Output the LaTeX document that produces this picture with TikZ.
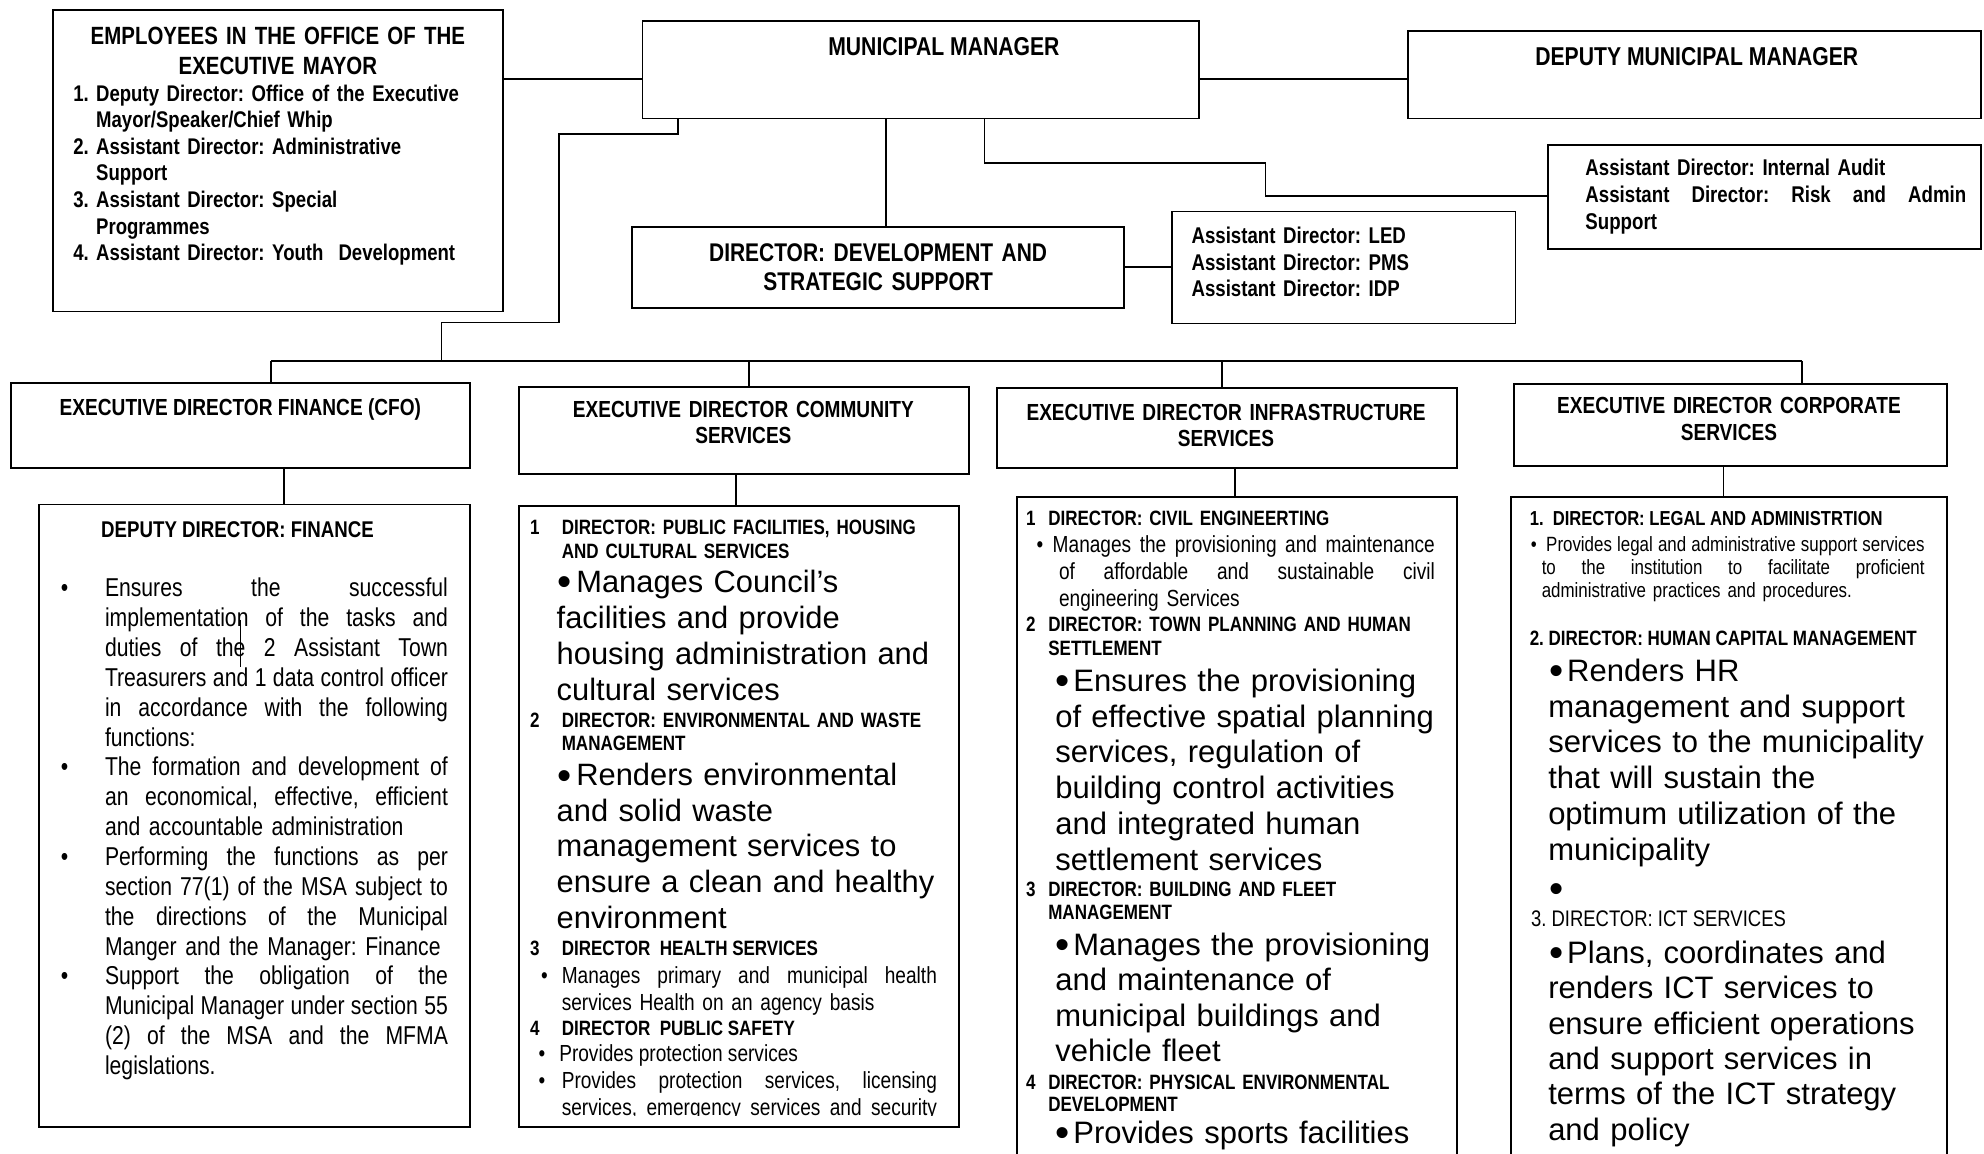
\documentclass[tikz,border=0pt]{standalone}
\usepackage{fontspec}
\setmainfont{Liberation Sans}
\newfontfamily\nar[FakeStretch=0.82]{Liberation Sans}
\newfontfamily\ari{Liberation Sans}
\frenchspacing
\newcommand\fbd[2]{\nar\bfseries\fontsize{#1}{#2}\selectfont\frenchspacing}
\newcommand\frg[2]{\nar\mdseries\fontsize{#1}{#2}\selectfont\frenchspacing}
\newcommand\fbig[2]{\ari\mdseries\fontsize{#1}{#2}\selectfont\frenchspacing}
\newcommand\jl[2]{\leavevmode{\spaceskip=\fontdimen2\font plus 1fil\relax\makebox[#1][s]{#2}}}
\newcommand\bigbul[1]{\makebox[#1][l]{\raisebox{-2.6pt}{\fontsize{32}{32}\selectfont\textbullet}}}
\newcommand\lnum[2]{\leavevmode\llap{\makebox[#1][l]{#2}}}
\newcommand\lbul[1]{\leavevmode\llap{\textbullet\hspace{#1}}}
\begin{document}
\begin{tikzpicture}[x=1pt,y=-1pt,
  box/.style={draw, line width=1.4pt, rectangle, inner sep=0pt, anchor=north west},
  conn/.style={line width=1.3pt},
  tx/.style={inner sep=0pt, outer sep=0pt, anchor=base west, align=left},
  ct/.style={inner sep=0pt, outer sep=0pt, anchor=base, align=center},
]
\useasboundingbox (0,0) rectangle (1568,912);
\fill[white] (0,0) rectangle (1568,912);

% ---------- boxes ----------
\node[box, minimum width=356pt, minimum height=238.5pt] (emp) at (41,7) {};
\node[box, minimum width=440pt, minimum height=77pt] (mm) at (507,16) {};
\node[box, minimum width=453pt, minimum height=69pt] (dmm) at (1112,24) {};
\node[box, minimum width=388.6pt, minimum height=63.5pt] (dev) at (499,179) {};
\node[box, minimum width=271.3pt, minimum height=88.5pt] (led) at (925.7,166.5) {};
\node[box, minimum width=342.4pt, minimum height=82pt] (aud) at (1222.6,114) {};
\node[box, minimum width=363pt, minimum height=67pt] (cfo) at (8,302) {};
\node[box, minimum width=355.5pt, minimum height=69pt] (com) at (409.5,305) {};
\node[box, minimum width=364pt, minimum height=63pt] (inf) at (787,306) {};
\node[box, minimum width=342pt, minimum height=65pt] (cor) at (1196,302.5) {};
\node[box, minimum width=341pt, minimum height=492pt] (fin) at (30,398) {};
\node[box, minimum width=347.5pt, minimum height=491pt] (comb) at (409.5,399) {};
\node[box, minimum width=348pt, minimum height=540pt] (infb) at (803,392) {};
\node[box, minimum width=344.5pt, minimum height=540pt] (corb) at (1193.5,392) {};

% ---------- connectors ----------
\coordinate (busL) at (214,285.3);
\coordinate (busR) at (1424,285.3);
\draw[conn] (emp.east |- 0,62.5) -- (mm.west |- 0,62.5);
\draw[conn] (mm.east |- 0,62.5) -- (dmm.west |- 0,62.5);
\draw[conn] (mm.south -| 536,0) -- (536,106) -- (442,106) -- (442,255) -- (349,255) -- (busL -| 349,0);
\draw[conn] (busL) -- (busR);
\draw[conn] (busL) -- (cfo.north -| busL);
\draw[conn] (busL -| 592,0) -- (com.north -| 592,0);
\draw[conn] (busL -| 966,0) -- (inf.north -| 966,0);
\draw[conn] (busR) -- (cor.north -| busR);
\draw[conn] (mm.south -| 700,0) -- (dev.north -| 700,0);
\draw[conn] (mm.south -| 778,0) -- (778,128.6) -- (1000,128.6) -- (1000,155) -- (aud.west |- 0,155);
\draw[conn] (dev.east |- 0,211) -- (led.west |- 0,211);
\draw[conn] (cfo.south -| 224.5,0) -- (fin.north -| 224.5,0);
\draw[conn] (com.south -| 581.5,0) -- (comb.north -| 581.5,0);
\draw[conn] (inf.south -| 976,0) -- (infb.north -| 976,0);
\draw[conn] (cor.south -| 1362,0) -- (corb.north -| 1362,0);
\draw[line width=0.8pt] (190,490) -- (190,527);

% ---------- top texts ----------
\node[ct, text width=340pt, font=\fbd{19.7}{23.7}] (empT) at (219.6,34.8) {EMPLOYEES IN THE OFFICE OF THE\\EXECUTIVE MAYOR};
\node[tx, text width=315pt, font=\fbd{17.9}{21}] (empL) at (76,80) {\lnum{18pt}{1.}Deputy Director: Office of the Executive\\
Mayor/Speaker/Chief Whip\\
\lnum{18pt}{2.}Assistant Director: Administrative\\
Support\\
\lnum{18pt}{3.}Assistant Director: Special\\
Programmes\\
\lnum{18pt}{4.}Assistant Director: Youth\ \ Development};
\node[ct, font=\fbd{20.4}{23.7}] (mmT) at (746,43.8) {MUNICIPAL MANAGER};
\node[ct, font=\fbd{20.4}{23.7}] (dmmT) at (1341,51.5) {DEPUTY MUNICIPAL MANAGER};
\node[ct, text width=380pt, font=\fbd{20.2}{22.4}] (devT) at (694,206.8) {DIRECTOR: DEVELOPMENT AND\\STRATEGIC SUPPORT};
\node[tx, text width=250pt, font=\fbd{18}{21.2}] (ledT) at (941.7,192.3) {Assistant Director: LED\\Assistant Director: PMS\\Assistant Director: IDP};
\node[tx, text width=301pt, font=\fbd{18}{21.1}] (audT) at (1253,139) {Assistant Director: Internal Audit\\
\jl{301pt}{Assistant Director: Risk and Admin}\\
Support};

% ---------- executive directors ----------
\node[ct, font=\fbd{18.4}{21}] (cfoT) at (190,328) {EXECUTIVE DIRECTOR FINANCE (CFO)};
\node[ct, text width=345pt, font=\fbd{18.4}{20.8}] (comT) at (587.5,330.1) {EXECUTIVE DIRECTOR COMMUNITY\\SERVICES};
\node[ct, text width=355pt, font=\fbd{18.4}{20.5}] (infT) at (969,332) {EXECUTIVE DIRECTOR INFRASTRUCTURE\\SERVICES};
\node[ct, text width=335pt, font=\fbd{18.4}{21}] (corT) at (1366.4,326.8) {EXECUTIVE DIRECTOR CORPORATE\\SERVICES};

% ---------- finance ----------
\node[tx, font=\fbd{18}{21}] (finH) at (80,424.7) {DEPUTY DIRECTOR: FINANCE};
\node[tx, text width=271pt, font=\frg{20.4}{23.6}] (finB) at (83,471.6) {\lbul{29pt}\jl{271pt}{Ensures the successful}\\
\jl{271pt}{implementation of the tasks and}\\
\jl{271pt}{duties of the 2 Assistant Town}\\
\jl{271pt}{Treasurers and 1 data control officer}\\
\jl{271pt}{in accordance with the following}\\
functions:\\
\lbul{29pt}\jl{271pt}{The formation and development of}\\
\jl{271pt}{an economical, effective, efficient}\\
and accountable administration\\
\lbul{29pt}\jl{271pt}{Performing the functions as per}\\
\jl{271pt}{section 77(1) of the MSA subject to}\\
\jl{271pt}{the directions of the Municipal}\\
Manger and the Manager: Finance\\
\lbul{29pt}\jl{271pt}{Support the obligation of the}\\
\jl{271pt}{Municipal Manager under section 55}\\
\jl{271pt}{(2) of the MSA and the MFMA}\\
legislations.};

% ---------- community ----------
\node[tx, text width=320pt, font=\fbd{16.4}{18.5}] (com1) at (444,422.8) {\lnum{25pt}{1}DIRECTOR: PUBLIC FACILITIES, HOUSING\\AND CULTURAL SERVICES};
\node[tx, text width=320pt, font=\fbig{24.4}{28.47}] (com1b) at (440,468.4) {\hspace*{0.5pt}\bigbul{15pt}Manages Council’s\\facilities and provide\\housing administration and\\cultural services};
\node[tx, text width=320pt, font=\fbd{16.4}{18.5}] (com2) at (444,574.8) {\lnum{25pt}{2}DIRECTOR: ENVIRONMENTAL AND WASTE\\MANAGEMENT};
\node[tx, text width=320pt, font=\fbig{24.4}{28.15}] (com2b) at (440,621) {\hspace*{0.5pt}\bigbul{15pt}Renders environmental\\and solid waste\\management services to\\ensure a clean and healthy\\environment};
\node[tx, font=\fbd{16.4}{18.5}] (com3) at (444,755.5) {\lnum{25pt}{3}DIRECTOR\ \ HEALTH SERVICES};
\node[tx, text width=296.5pt, font=\frg{18.4}{21.1}] (com3b) at (444,777.6) {\lbul{11pt}\jl{296.5pt}{Manages primary and municipal health}\\services Health on an agency basis};
\node[tx, font=\fbd{16.4}{18.5}] (com4) at (444,818) {\lnum{25pt}{4}DIRECTOR\ \ PUBLIC SAFETY};
\node[tx, font=\frg{18.4}{21.1}] (com4b) at (442,839) {\lbul{11pt}Provides protection services};
\begin{scope}
\clip (400,845) rectangle (760,881.3);
\node[tx, text width=296.5pt, font=\frg{18.4}{21.7}] (com4c) at (444,860) {\lbul{13pt}\jl{296.5pt}{Provides protection services, licensing}\\\jl{296.5pt}{services, emergency services and security}};
\end{scope}

% ---------- infrastructure ----------
\node[tx, text width=320pt, font=\fbd{16.4}{19}] (inf1) at (828.5,415) {\lnum{17.5pt}{1}DIRECTOR: CIVIL ENGINEERTING};
\node[tx, text width=310pt, font=\frg{18.4}{21.3}] (inf1b) at (837,436.8) {\leavevmode\hspace*{-5pt}\llap{\textbullet\hspace{7.5pt}}\jl{302pt}{Manages the provisioning and maintenance}\\
\jl{297pt}{of affordable and sustainable civil}\\
engineering Services};
\node[tx, text width=320pt, font=\fbd{16.4}{19}] (inf2) at (828.5,498.7) {\lnum{17.5pt}{2}DIRECTOR: TOWN PLANNING AND HUMAN\\SETTLEMENT};
\node[tx, text width=320pt, font=\fbig{24.5}{28.2}] (inf2b) at (834,546.6) {\hspace*{0.5pt}\bigbul{13.8pt}Ensures the provisioning\\of effective spatial planning\\services, regulation of\\building control activities\\and integrated human\\settlement services};
\node[tx, text width=320pt, font=\fbd{16.4}{18}] (inf3) at (828.5,708.7) {\lnum{17.5pt}{3}DIRECTOR: BUILDING AND FLEET\\MANAGEMENT};
\node[tx, text width=320pt, font=\fbig{24.5}{28.1}] (inf3b) at (834,754.8) {\hspace*{0.5pt}\bigbul{13.8pt}Manages the provisioning\\and maintenance of\\municipal buildings and\\vehicle fleet};
\node[tx, text width=320pt, font=\fbd{16.4}{17.8}] (inf4) at (828.5,861) {\lnum{17.5pt}{4}DIRECTOR: PHYSICAL ENVIRONMENTAL\\DEVELOPMENT};
\node[tx, text width=320pt, font=\fbig{24.5}{28.1}] (inf4b) at (834,903.5) {\hspace*{0.5pt}\bigbul{13.8pt}Provides sports facilities};

% ---------- corporate ----------
\node[tx, font=\fbd{16}{18}] (cor1) at (1209,415.5) {1.\ \ DIRECTOR: LEGAL AND ADMINISTRTION};
\node[tx, text width=310pt, font=\frg{16.3}{18}] (cor1b) at (1218.5,436) {\leavevmode\hspace*{3.5pt}\llap{\textbullet\hspace{7.5pt}}\jl{299pt}{Provides legal and administrative support services}\\
\jl{302.5pt}{to the institution to facilitate proficient}\\
administrative practices and procedures.};
\node[tx, font=\fbd{16.4}{18}] (cor2) at (1209,510.4) {2. DIRECTOR: HUMAN CAPITAL MANAGEMENT};
\node[tx, text width=320pt, font=\fbig{24.5}{28.2}] (cor2b) at (1223.6,538.7) {\hspace*{1pt}\bigbul{14pt}Renders HR\\management and support\\services to the municipality\\that will sustain the\\optimum utilization of the\\municipality};
\node[tx, font=\fbig{24.5}{28.2}] (corDot) at (1224.5,710.5) {\bigbul{10pt}};
\node[tx, font=\frg{17.8}{20}] (cor3) at (1210,732.4) {3. DIRECTOR: ICT SERVICES};
\node[tx, text width=320pt, font=\fbig{24.5}{27.95}] (cor3b) at (1223.6,761.3) {\hspace*{1pt}\bigbul{14pt}Plans, coordinates and\\renders ICT services to\\ensure efficient operations\\and support services in\\terms of the ICT strategy\\and policy};
\end{tikzpicture}
\end{document}
